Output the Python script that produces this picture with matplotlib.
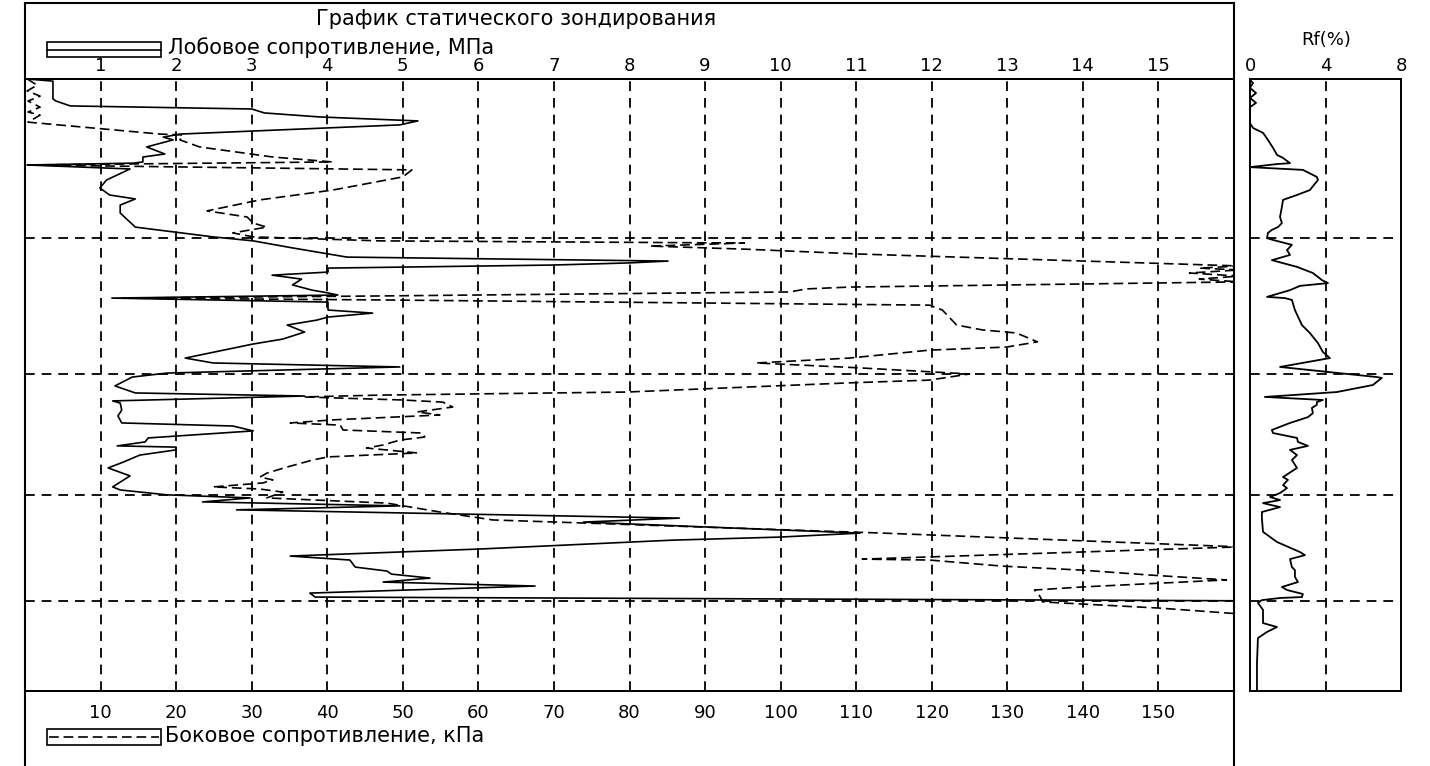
import matplotlib
matplotlib.use("Agg")
import matplotlib.pyplot as plt
from matplotlib.lines import Line2D
from matplotlib.patches import Rectangle

# Результаты статического зондирования (глубина в м)
# лобовое сопротивление qc, МПа
depth_qc = [0.00, 0.07, 0.65, 0.72, 0.88, 0.98, 1.11, 1.24, 1.37, 1.50,
            1.80, 1.90, 1.99, 2.22, 2.45, 2.55, 2.71, 2.75, 2.81, 2.94,
            3.30, 3.56, 3.79, 3.92, 4.12, 4.38, 4.84, 5.16, 5.29, 5.52,
            5.82, 5.95, 6.01, 6.08, 6.18, 6.31, 6.41, 6.54, 6.73, 6.90,
            6.99, 7.06, 7.16, 7.29, 7.55, 7.65, 7.78, 7.88, 8.04, 8.27,
            8.50, 8.66, 9.12, 9.28, 9.41, 9.61, 9.74, 10.03, 10.26, 10.36,
            10.52, 10.59, 10.82, 11.01, 11.24, 11.34, 11.50, 11.73, 11.86, 11.99,
            12.03, 12.12, 12.29, 12.52, 12.71, 12.97, 13.33, 13.43, 13.59, 13.69,
            13.82, 13.95, 14.08, 14.35, 14.48, 14.84, 14.97, 15.07, 15.36, 15.59,
            15.72, 15.95, 16.08, 16.18, 16.31, 16.44, 16.57, 16.80, 16.93, 17.06]
qc = [0.03, 0.37, 0.37, 0.41, 0.60, 3.00, 3.17, 3.90, 5.20, 4.96,
      2.05, 1.83, 1.96, 1.61, 1.85, 1.56, 1.56, 1.43, 0.03, 1.39,
      1.08, 0.99, 1.12, 1.46, 1.26, 1.26, 1.46, 2.49, 3.02, 3.54,
      4.26, 8.51, 8.00, 6.98, 4.01, 4.01, 3.27, 3.66, 3.54, 3.80,
      4.01, 4.14, 1.15, 4.01, 4.01, 4.60, 4.01, 3.86, 3.47, 3.70,
      3.41, 3.02, 2.12, 2.49, 4.96, 1.88, 1.42, 1.19, 1.46, 3.70,
      1.16, 1.26, 1.28, 1.23, 1.28, 2.75, 3.02, 1.63, 1.59, 1.22,
      2.00, 2.00, 1.52, 1.30, 1.10, 1.39, 1.16, 1.26, 1.88, 2.98,
      2.35, 4.96, 2.80, 8.66, 7.39, 11.05, 9.99, 8.57, 6.02, 3.51,
      4.30, 4.37, 4.79, 4.85, 5.36, 4.74, 6.75, 3.77, 3.84, 16.9]

# боковое сопротивление fs, кПа
depth_fs = [0.00, 0.20, 0.39, 0.56, 0.72, 0.92, 1.08, 1.18, 1.41, 1.80,
            1.83, 1.99, 2.22, 2.55, 2.71, 2.81, 2.97, 3.20, 3.63, 3.95,
            4.31, 4.51, 4.71, 4.84, 5.03, 5.16, 5.29, 5.36, 5.46, 5.56,
            5.72, 6.05, 6.11, 6.18, 6.24, 6.34, 6.44, 6.54, 6.63, 6.80,
            6.86, 6.96, 7.09, 7.16, 7.22, 7.39, 7.55, 8.04, 8.20, 8.30,
            8.59, 8.76, 8.86, 9.12, 9.28, 9.44, 9.64, 9.84, 9.93, 10.23,
            10.33, 10.39, 10.42, 10.49, 10.56, 10.72, 10.88, 10.98, 11.14, 11.24,
            11.31, 11.47, 11.57, 11.70, 11.80, 11.96, 12.06, 12.22, 12.35, 12.45,
            12.68, 12.88, 13.01, 13.10, 13.20, 13.33, 13.40, 13.50, 13.69, 13.86,
            14.15, 14.41, 14.84, 15.29, 15.69, 15.72, 15.92, 16.05, 16.21, 16.37,
            16.60, 16.70, 16.90, 17.09, 17.29, 17.48]
fs = [0.3, 1.6, 0.3, 2.0, 0.4, 2.0, 0.4, 2.0, 0.4, 17.9,
      20.9, 20.5, 23.1, 32.8, 40.7, 0.3, 51.2, 50.0, 40.7, 31.1,
      24.1, 29.4, 30.2, 32.0, 27.5, 30.2, 47.0, 95.2, 82.7, 95.2,
      110.4, 153.2, 160.7, 155.4, 160.7, 154.1, 160.7, 155.4, 160.7, 109.1,
      103.4, 101.2, 47.0, 12.6, 47.0, 119.7, 121.4, 123.3, 126.7, 131.2,
      134.0, 129.9, 119.7, 109.1, 96.8, 110.4, 125.0, 119.7, 109.1, 79.6,
      47.0, 37.0, 40.7, 50.0, 55.3, 56.6, 51.9, 54.9, 40.7, 35.1,
      41.7, 42.1, 52.6, 52.9, 49.6, 47.4, 45.2, 51.9, 40.1, 38.1,
      34.7, 32.0, 31.1, 32.8, 31.5, 24.9, 31.1, 34.1, 32.0, 47.9,
      54.9, 61.9, 113.5, 160.7, 110.8, 119.7, 129.4, 139.9, 148.8, 159.0,
      139.9, 133.6, 134.3, 134.7, 150.1, 160.7]

# коэффициент трения Rf, %
depth_rf = [0.03, 0.13, 0.29, 0.46, 0.62, 0.78, 0.92, 1.44, 1.60, 1.76,
            1.99, 2.25, 2.48, 2.58, 2.75, 2.78, 2.88, 2.97, 3.20, 3.30,
            3.63, 3.79, 3.95, 4.18, 4.51, 4.71, 4.84, 4.93, 5.03, 5.20,
            5.26, 5.42, 5.59, 5.75, 5.92, 6.14, 6.34, 6.57, 6.67, 6.76,
            6.90, 7.12, 7.16, 7.22, 7.55, 8.04, 8.30, 8.63, 8.92, 9.12,
            9.41, 9.58, 9.74, 9.77, 10.00, 10.23, 10.39, 10.49, 10.56, 10.65,
            10.75, 10.92, 11.05, 11.24, 11.47, 11.57, 11.73, 11.86, 11.99, 12.12,
            12.29, 12.45, 12.71, 13.01, 13.10, 13.27, 13.37, 13.53, 13.66, 13.76,
            13.86, 13.99, 14.15, 14.35, 14.80, 15.13, 15.46, 15.56, 15.69, 15.95,
            16.05, 16.27, 16.44, 16.60, 16.70, 16.83, 16.93, 16.96, 17.03, 17.12,
            17.35, 17.78, 17.91, 18.07, 18.27, 19.08, 20.00]
rf = [0.00, 0.16, 0.00, 0.32, 0.00, 0.32, 0.00, 0.00, 0.16, 0.69,
      0.95, 1.22, 1.43, 1.75, 2.12, 1.43, 0.00, 2.80, 3.54, 3.60,
      3.17, 2.49, 1.75, 1.69, 1.59, 1.69, 1.48, 1.16, 0.95, 0.90,
      1.22, 2.22, 1.96, 2.12, 1.16, 2.49, 3.33, 3.81, 4.13, 2.65,
      2.12, 0.90, 1.85, 2.22, 2.38, 2.75, 3.17, 3.60, 3.86, 4.23,
      1.59, 4.23, 6.72, 6.98, 6.51, 4.60, 0.79, 3.86, 3.54, 3.54,
      3.28, 3.33, 3.07, 2.12, 1.16, 1.22, 2.49, 2.54, 3.07, 2.12,
      2.49, 2.22, 2.49, 1.75, 2.01, 1.75, 1.96, 1.59, 1.06, 1.59,
      0.69, 1.59, 0.63, 0.63, 0.69, 1.43, 2.65, 2.91, 2.12, 2.22,
      2.38, 2.38, 2.54, 1.69, 1.96, 2.80, 2.75, 1.59, 0.63, 0.42,
      0.69, 0.69, 1.43, 0.90, 0.42, 0.37, 0.37]

layers = [5.20, 9.64, 13.59, 17.06]   # границы слоёв, м
qc_ticks = list(range(1, 16))
fs_ticks = list(range(10, 160, 10))
rf_ticks = [0, 4, 8]

plt.rcParams['font.family'] = ['DejaVu Sans']
plt.rcParams['lines.scale_dashes'] = False

W, H = 1430, 766
fig = plt.figure(figsize=(W / 100, H / 100), dpi=100)


def fx(px):
    return px / W


def fy(py):
    return 1 - py / H


grid_ls = (0, (7, 5))
fs_ls = (0, (7, 3.5))
FS = 13

# основное поле: qc сверху, fs снизу
ax = fig.add_axes([fx(25), fy(691), fx(1234) - fx(25), fy(79) - fy(691)])
ax.set_xlim(0, 16)
ax.set_ylim(20, 0)
ax.set_yticks([])
for v in qc_ticks:
    ax.axvline(v, color='k', lw=1.3, ls=grid_ls)
for d in layers:
    ax.axhline(d, color='k', lw=1.3, ls=grid_ls)
ax.plot(qc, depth_qc, color='k', lw=1.2)

ax2 = ax.twiny()
ax2.set_xlim(0, 160)
ax2.plot(fs, depth_fs, color='k', lw=1.2, ls=fs_ls)
ax2.xaxis.tick_bottom()
ax2.set_xticks(fs_ticks)
ax2.tick_params(axis='x', length=0, pad=9, labelsize=FS)

# twiny переводит подписи qc вниз — возвращаем наверх
ax.xaxis.tick_top()
ax.set_xticks(qc_ticks)
ax.tick_params(axis='x', length=0, pad=3, labelsize=FS)
for a in (ax, ax2):
    for s in a.spines.values():
        s.set_linewidth(1.4)

# поле Rf
rax = fig.add_axes([fx(1250), fy(691), fx(1401) - fx(1250), fy(79) - fy(691)])
rax.set_xlim(0, 8)
rax.set_ylim(20, 0)
rax.set_yticks([])
rax.axvline(4, color='k', lw=1.3, ls=grid_ls)
for d in layers:
    rax.axhline(d, color='k', lw=1.3, ls=grid_ls)
rax.plot(rf, depth_rf, color='k', lw=1.3)
rax.xaxis.tick_top()
rax.set_xticks(rf_ticks)
rax.tick_params(axis='x', length=0, pad=3, labelsize=FS)
for s in rax.spines.values():
    s.set_linewidth(1.4)

# рамка
for xs, ys in [((25, 1234), (3, 3)), ((25, 25), (3, 766)), ((1234, 1234), (3, 766))]:
    fig.add_artist(Line2D([fx(xs[0]), fx(xs[1])], [fy(ys[0]), fy(ys[1])],
                          transform=fig.transFigure, color='k', lw=1.5))

# надписи
fig.text(fx(516), fy(19), "График статического зондирования",
         ha='center', va='center', fontsize=FS + 2)
fig.text(fx(1326), fy(40), "Rf(%)", ha='center', va='center', fontsize=FS)

# условные обозначения
fig.add_artist(Rectangle((fx(47), fy(57)), fx(161) - fx(47), fy(42) - fy(57),
                         transform=fig.transFigure, fill=False, lw=1.2, ec='k'))
fig.add_artist(Line2D([fx(47), fx(161)], [fy(49.5), fy(49.5)],
                      transform=fig.transFigure, color='k', lw=1.2))
fig.text(fx(168), fy(48), "Лобовое сопротивление, МПа",
         ha='left', va='center', fontsize=FS + 2)

fig.add_artist(Rectangle((fx(47), fy(745)), fx(161) - fx(47), fy(729) - fy(745),
                         transform=fig.transFigure, fill=False, lw=1.2, ec='k'))
fig.add_artist(Line2D([fx(49), fx(159)], [fy(737), fy(737)],
                      transform=fig.transFigure, color='k', lw=1.2, ls=fs_ls))
fig.text(fx(165), fy(736), "Боковое сопротивление, кПа",
         ha='left', va='center', fontsize=FS + 2)

fig.savefig("out.png", dpi=100, facecolor='white')
